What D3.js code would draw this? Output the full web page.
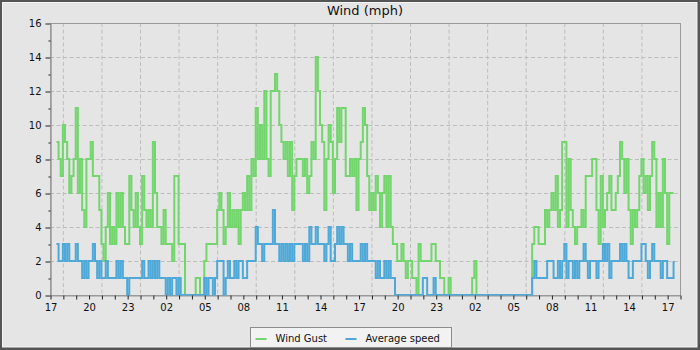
<!DOCTYPE html>
<html>
<head>
<meta charset="utf-8">
<script src="https://d3js.org/d3.v7.min.js"></script>
<style>
  body { margin: 0; background: #fff; }
  svg { display: block; font-family: "DejaVu Sans", sans-serif; }
</style>
</head>
<body>
<div id="chart"></div>
<script>
// readings every 10 minutes, starting 17:30 on the first day
const startTime = new Date(2021, 5, 1, 17, 30);
const stepMinutes = 10;

const windGust = [
  9, 8, 7, 10, 9, 8, 6, 7, 8, 11,
  6, 8, 5, 4, 8, 8, 9, 7, 7, 7,
  5, 3, 2, 4, 6, 3, 4, 3, 6, 4,
  6, 4, 3, 3, 7, 5, 4, 6, 4, 3,
  7, 5, 4, 5, 4, 9, 6, 4, 4, 3,
  5, 3, 3, 3, 2, 7, 7, 3, 3, 3,
  0, 0, 0, 0, 0, 1, 1, 0, 0, 2,
  3, 3, 3, 3, 3, 5, 6, 5, 3, 4,
  6, 4, 5, 4, 5, 3, 5, 6, 5, 7,
  5, 8, 7, 11, 8, 10, 8, 12, 8, 7,
  12, 12, 13, 12, 10, 9, 8, 9, 7, 9,
  5, 7, 8, 8, 8, 7, 8, 6, 7, 9,
  8, 14, 12, 10, 9, 5, 8, 10, 9, 6,
  8, 11, 9, 11, 11, 7, 7, 8, 7, 8,
  5, 8, 9, 11, 10, 7, 5, 6, 5, 7,
  6, 4, 6, 7, 4, 7, 4, 3, 3, 2,
  2, 3, 2, 1, 2, 2, 1, 1, 0, 3,
  2, 2, 2, 2, 2, 3, 3, 2, 2, 1,
  1, 0, 0, 1, 0, 0, 0, 0, 0, 0,
  0, 0, 0, 0, 1, 2, 0, 0, 0, 0,
  0, 0, 0, 0, 0, 0, 0, 0, 0, 0,
  0, 0, 0, 0, 0, 0, 0, 0, 0, 0,
  0, 0, 3, 4, 4, 3, 3, 3, 5, 4,
  5, 6, 5, 7, 4, 5, 9, 9, 4, 8,
  5, 4, 3, 4, 4, 5, 4, 7, 7, 7,
  8, 8, 5, 3, 7, 4, 5, 6, 7, 5,
  5, 6, 7, 9, 8, 6, 8, 5, 3, 5,
  4, 5, 7, 8, 6, 7, 5, 7, 9, 8,
  4, 6, 4, 8, 6, 3, 6, 6, 6
];

const avgSpeed = [
  3, 2, 2, 3, 2, 3, 2, 2, 2, 3,
  2, 2, 1, 2, 1, 2, 2, 3, 2, 1,
  2, 1, 1, 2, 1, 1, 1, 1, 2, 1,
  2, 1, 1, 0, 1, 1, 1, 1, 1, 1,
  2, 1, 1, 2, 1, 2, 1, 2, 1, 1,
  1, 0, 1, 0, 1, 1, 0, 1, 0, 0,
  0, 0, 0, 0, 0, 0, 0, 0, 0, 1,
  0, 1, 1, 0, 1, 2, 2, 2, 0, 1,
  2, 1, 1, 2, 1, 2, 2, 1, 1, 2,
  2, 2, 2, 4, 3, 3, 2, 3, 3, 3,
  3, 5, 3, 3, 2, 3, 2, 3, 2, 3,
  2, 3, 3, 3, 3, 2, 3, 2, 4, 3,
  3, 4, 3, 3, 3, 2, 3, 4, 2, 2,
  3, 4, 3, 4, 3, 3, 2, 3, 2, 2,
  2, 2, 3, 2, 3, 2, 2, 2, 2, 1,
  2, 1, 1, 2, 1, 2, 1, 1, 0, 0,
  0, 0, 0, 0, 0, 0, 0, 0, 0, 0,
  0, 1, 1, 0, 0, 0, 1, 0, 0, 0,
  0, 0, 0, 0, 0, 0, 0, 0, 0, 0,
  0, 0, 0, 0, 0, 0, 0, 0, 0, 0,
  0, 0, 0, 0, 0, 0, 0, 0, 0, 0,
  0, 0, 0, 0, 0, 0, 0, 0, 0, 0,
  0, 0, 1, 2, 1, 1, 1, 1, 1, 2,
  2, 2, 1, 1, 2, 1, 2, 3, 1, 2,
  2, 1, 2, 1, 2, 2, 3, 2, 1, 2,
  2, 2, 1, 2, 2, 3, 2, 3, 1, 2,
  2, 2, 2, 3, 2, 3, 2, 1, 1, 2,
  2, 2, 2, 3, 3, 2, 1, 2, 3, 2,
  2, 2, 1, 2, 2, 1, 1, 1, 2
];

const seriesNames = ["Wind Gust", "Average speed"];
const yMajorTicks = [0, 2, 4, 6, 8, 10, 12, 14, 16];
const yMinorTicks = [1, 3, 5, 7, 9, 11, 13, 15];

const gustColor = "#72d66c";
const avgColor = "#4ea9d9";

const width = 700, height = 350;
const margin = { top: 23, right: 20, bottom: 55, left: 50 };

const svg = d3.select("#chart").append("svg")
  .attr("width", width)
  .attr("height", height);

// outer frame
svg.append("rect")
  .attr("width", width).attr("height", height)
  .attr("fill", "#555");
svg.append("rect")
  .attr("x", 2.5).attr("y", 2.5)
  .attr("width", width - 5.5).attr("height", height - 5.5)
  .attr("fill", "#e5e5e5")
  .attr("stroke", "#f4f4f4");

const t0 = new Date(2021, 5, 1, 17, 0);
const t1 = d3.timeHour.offset(t0, 49);
const timeOf = i => d3.timeMinute.offset(startTime, i * stepMinutes);

const x = d3.scaleTime()
  .domain([t0, t1])
  .range([margin.left, width - margin.right]);

const y = d3.scaleLinear()
  .domain([0, 16])
  .range([height - margin.bottom, margin.top]);

// grid
const gridHours = x.ticks(d3.timeHour.every(3)).filter(d => d > t0 && d < t1);
svg.append("g")
  .selectAll("line")
  .data(gridHours)
  .join("line")
  .attr("x1", d => x(d) + 0.5).attr("x2", d => x(d) + 0.5)
  .attr("y1", y(16)).attr("y2", y(0))
  .attr("stroke", "#bdbdbd")
  .attr("stroke-dasharray", "4,2.5");

svg.append("g")
  .selectAll("line")
  .data(yMajorTicks.filter(v => v > 0 && v < 16))
  .join("line")
  .attr("x1", x(t0)).attr("x2", x(t1))
  .attr("y1", d => y(d) + 0.5).attr("y2", d => y(d) + 0.5)
  .attr("stroke", "#bdbdbd")
  .attr("stroke-dasharray", "4,2.5");

// plot border
svg.append("rect")
  .attr("x", x(t0) + 0.5).attr("y", y(16) + 0.5)
  .attr("width", x(t1) - x(t0)).attr("height", y(0) - y(16))
  .attr("fill", "none")
  .attr("stroke", "#9a9a9a");

// series
const line = d3.line()
  .x((d, i) => x(timeOf(i)))
  .y(d => y(d))
  .curve(d3.curveStepAfter);

svg.append("path")
  .datum(windGust)
  .attr("d", line)
  .attr("fill", "none")
  .attr("stroke", gustColor)
  .attr("stroke-width", 2);

svg.append("path")
  .datum(avgSpeed)
  .attr("d", line)
  .attr("fill", "none")
  .attr("stroke", avgColor)
  .attr("stroke-width", 2);

// axes
svg.append("g")
  .attr("transform", `translate(${margin.left + 0.5},0.5)`)
  .call(d3.axisLeft(y).tickValues(yMajorTicks).tickSize(5).tickSizeOuter(0).tickPadding(4));
svg.append("g")
  .attr("transform", `translate(${margin.left + 0.5},0.5)`)
  .call(d3.axisLeft(y).tickValues(yMinorTicks).tickSize(2).tickSizeOuter(0).tickFormat(""));

svg.append("g")
  .attr("transform", `translate(0.5,${height - margin.bottom + 0.5})`)
  .call(d3.axisBottom(x)
    .ticks(d3.timeHour.every(1))
    .tickSize(4)
    .tickSizeOuter(0)
    .tickPadding(4)
    .tickFormat(d => (d.getHours() % 3 === 2 && d < t1) ? d3.timeFormat("%H")(d) : ""));

svg.selectAll(".domain").attr("stroke", "#9a9a9a");
svg.selectAll(".tick line").attr("stroke", "#222");
svg.selectAll(".tick text")
  .attr("fill", "#111")
  .style("font-family", "DejaVu Sans")
  .style("font-size", "10px");

// title
svg.append("text")
  .attr("x", (x(t0) + x(t1)) / 2)
  .attr("y", 15)
  .attr("text-anchor", "middle")
  .style("font-size", "13px")
  .attr("fill", "#111")
  .text("Wind (mph)");

// legend
const legend = svg.append("g").attr("transform", "translate(250.5,327.5)");
legend.append("rect")
  .attr("width", 201).attr("height", 20)
  .attr("fill", "#f2f2f2")
  .attr("stroke", "#8c8c8c");

const legendX = [5, 95];
const legendItem = legend.selectAll("g.item")
  .data(seriesNames)
  .join("g")
  .attr("class", "item")
  .attr("transform", (d, i) => `translate(${legendX[i]},0)`);
legendItem.append("line")
  .attr("x1", 0).attr("x2", 11)
  .attr("y1", 11.5).attr("y2", 11.5)
  .attr("stroke", (d, i) => i === 0 ? gustColor : avgColor)
  .attr("stroke-width", 2);
legendItem.append("text")
  .attr("x", 20).attr("y", 14)
  .style("font-size", "10px")
  .attr("fill", "#111")
  .text(d => d);
</script>
</body>
</html>
